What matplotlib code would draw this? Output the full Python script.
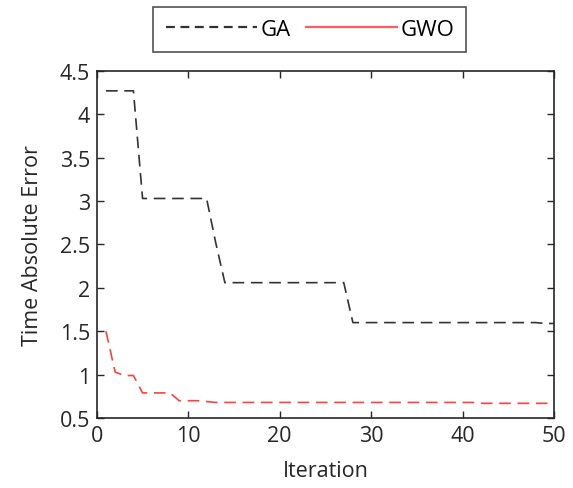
import matplotlib
matplotlib.use('Agg')

import matplotlib.pyplot as plt
from matplotlib.lines import Line2D

plt.rcParams['font.family'] = ['Open Sans', 'DejaVu Sans']

# convergence curves
iterations = list(range(1, 51))
ga_error = [4.27, 4.27, 4.27, 4.27, 3.03, 3.03, 3.03, 3.03, 3.03, 3.03,
            3.03, 3.03, 2.52, 2.06, 2.06, 2.06, 2.06, 2.06, 2.06, 2.06,
            2.06, 2.06, 2.06, 2.06, 2.06, 2.06, 2.06, 1.60, 1.60, 1.60,
            1.60, 1.60, 1.60, 1.60, 1.60, 1.60, 1.60, 1.60, 1.60, 1.60,
            1.60, 1.60, 1.60, 1.60, 1.60, 1.60, 1.60, 1.60, 1.59, 1.59]
gwo_error = [1.50, 1.03, 0.99, 0.99, 0.79, 0.79, 0.79, 0.79, 0.70, 0.70,
             0.70, 0.69, 0.68, 0.68, 0.68, 0.68, 0.68, 0.68, 0.68, 0.68,
             0.68, 0.68, 0.68, 0.68, 0.68, 0.68, 0.68, 0.68, 0.68, 0.68,
             0.68, 0.68, 0.68, 0.68, 0.68, 0.68, 0.68, 0.68, 0.68, 0.68,
             0.68, 0.67, 0.67, 0.67, 0.67, 0.67, 0.67, 0.67, 0.67, 0.67]
labels = ['GA', 'GWO']
colors = ['#333333', '#ff4040']

fig = plt.figure(figsize=(5.73, 4.89), dpi=100)
ax = fig.add_axes([0.169, 0.143, 0.798, 0.710])

l1, = ax.plot(iterations, ga_error, color=colors[0], lw=1.2)
l1.set_dashes([7, 4])
l2, = ax.plot(iterations, gwo_error, color=colors[1], lw=1.2)
l2.set_dashes([7, 4])

ax.set_xlim(0, 50)
ax.set_ylim(0.5, 4.5)
ax.set_xticks([0, 10, 20, 30, 40, 50])
ax.set_yticks([0.5, 1, 1.5, 2, 2.5, 3, 3.5, 4, 4.5])
ax.set_yticklabels(['0.5', '1', '1.5', '2', '2.5', '3', '3.5', '4', '4.5'])
ax.tick_params(direction='in', top=True, right=True, length=5, width=1,
               labelsize=15.5, colors='#262626', pad=5)
for s in ax.spines.values():
    s.set_color('#262626')
    s.set_linewidth(1.2)

ax.set_xlabel('Iteration', fontsize=15.5, color='#262626', labelpad=10)
ax.set_ylabel('Time Absolute Error', fontsize=15.5, color='#262626', labelpad=12)

# legend shows GA dashed, GWO solid
h1 = Line2D([], [], color=colors[0], lw=1.6, dashes=[4, 2.5])
h2 = Line2D([], [], color=colors[1], lw=1.6, alpha=0.85)
leg = fig.legend([h1, h2], labels, loc='center', bbox_to_anchor=(0.541, 0.938),
                 ncol=2, fontsize=16, frameon=True, fancybox=False,
                 handlelength=4.1, columnspacing=0.7, handletextpad=0.15,
                 borderpad=0.55)
leg.get_frame().set_edgecolor('#262626')
leg.get_frame().set_linewidth(1.2)

plt.savefig('out.png', dpi=100)
plt.close()
